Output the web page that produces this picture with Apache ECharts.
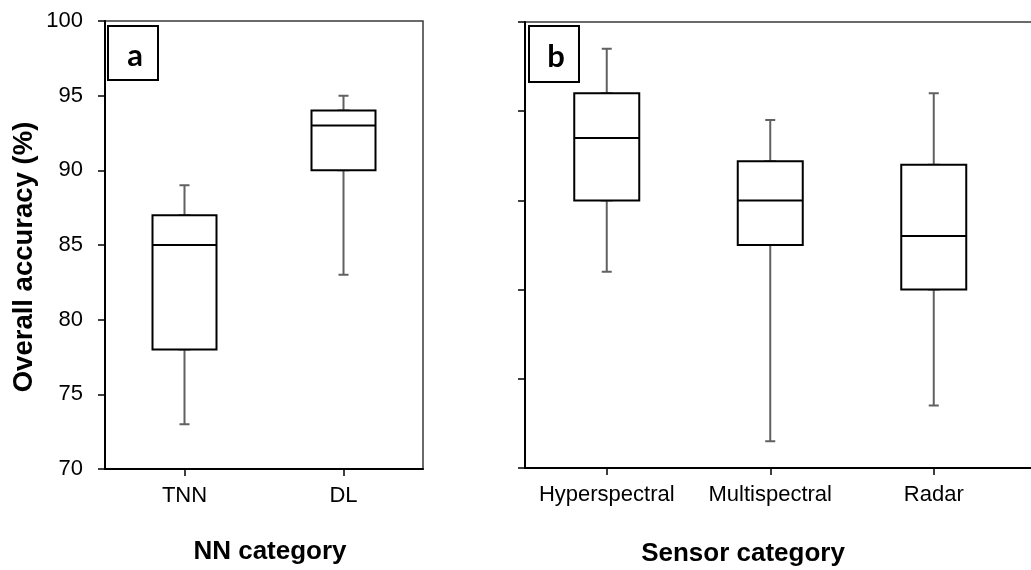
<!DOCTYPE html>
<html>
<head>
<meta charset="utf-8">
<script src="https://cdn.jsdelivr.net/npm/echarts@6/dist/echarts.min.js"></script>
<style>
  html, body { margin: 0; padding: 0; background: #ffffff; }
  #chart { width: 1031px; height: 570px; }
</style>
</head>
<body>
<div id="chart"></div>
<script>
// Panel a: overall accuracy by neural-network category
const nnCategories = ['TNN', 'DL'];
const nnMin    = [73, 83];
const nnQ1     = [78, 90];
const nnMedian = [85, 93];
const nnQ3     = [87, 94];
const nnMax    = [89, 95];
const nnTicks  = [70, 75, 80, 85, 90, 95, 100];

// Panel b: overall accuracy by sensor category
const sensorCategories = ['Hyperspectral', 'Multispectral', 'Radar'];
const sensorMin    = [86, 76.5, 78.5];
const sensorQ1     = [90, 87.5, 85];
const sensorMedian = [93.5, 90, 88];
const sensorQ3     = [96, 92.2, 92];
const sensorMax    = [98.5, 94.5, 96];
const sensorTicks  = [75, 80, 85, 90, 95, 100];

const FONT = '"Liberation Sans", Arial, sans-serif';
const WHISKER = '#616161';

// Whiskers: thin gray glyph from min to max with short caps
function whiskerData(mn, q1, q3, mx) {
  return mn.map((v, i) => [v, q1[i], q1[i], q3[i], mx[i]]);
}
// Boxes: black box Q1..Q3 with median line, no whiskers
function boxData(q1, med, q3) {
  return q1.map((v, i) => [v, v, med[i], q3[i], q3[i]]);
}

function xCat(gridIndex, data, visible, extra) {
  return Object.assign({
    type: 'category',
    gridIndex: gridIndex,
    data: data,
    show: visible,
    boundaryGap: true,
    axisLine: { show: true, lineStyle: { color: '#000', width: 2 } },
    axisTick: { show: true, alignWithLabel: true, length: 7, lineStyle: { color: '#000', width: 1.5 } },
    axisLabel: { color: '#000', fontSize: 22, fontFamily: FONT, margin: 16, interval: 0, hideOverlap: false },
    splitLine: { show: false }
  }, extra || {});
}

function yVal(gridIndex, ticks, showLabels) {
  return {
    type: 'value',
    gridIndex: gridIndex,
    min: ticks[0],
    max: ticks[ticks.length - 1],
    interval: ticks[1] - ticks[0],
    axisLine: { show: true, lineStyle: { color: '#000', width: 2 } },
    axisTick: { show: true, length: 7, lineStyle: { color: '#000', width: 1.5 } },
    axisLabel: { show: showLabels, color: '#000', fontSize: 22, fontFamily: FONT, margin: 22 },
    splitLine: { show: false }
  };
}

function panelLabel(letter, x, y, h) {
  return {
    type: 'group',
    x: x, y: y,
    children: [
      { type: 'rect', shape: { x: 0, y: 0, width: 50, height: h },
        style: { fill: '#fff', stroke: '#000', lineWidth: 2 } },
      { type: 'text', x: 27, y: h / 2 + 3,
        style: { text: letter, fill: '#000', font: 'bold 31px Lato, "Open Sans", sans-serif',
                 align: 'center', verticalAlign: 'middle' } }
    ]
  };
}

function axisTitle(text, x, y, size, rotation) {
  return {
    type: 'text', x: x, y: y, rotation: rotation || 0,
    style: { text: text, fill: '#000', font: 'bold ' + size + 'px ' + FONT,
             align: 'center', verticalAlign: 'middle' }
  };
}

const chart = echarts.init(document.getElementById('chart'));

chart.setOption({
  backgroundColor: '#ffffff',
  animation: false,
  grid: [
    { left: 105, top: 21, width: 318, height: 448, show: true, outerBoundsMode: 'none',
      borderColor: '#3a3a3a', borderWidth: 1.5, backgroundColor: 'transparent' },
    // panel b continues past the right edge of the canvas (its right side is not shown)
    { left: 525, top: 22, width: 654, height: 446, show: true, outerBoundsMode: 'none',
      borderColor: '#3a3a3a', borderWidth: 1.5, backgroundColor: 'transparent' }
  ],
  xAxis: [
    xCat(0, nnCategories, true),
    xCat(0, nnCategories, false),
    xCat(1, sensorCategories, true, { max: 3 }),
    xCat(1, sensorCategories, false, { max: 3 })
  ],
  yAxis: [
    yVal(0, nnTicks, true),
    yVal(1, sensorTicks, false)
  ],
  series: [
    { type: 'boxplot', xAxisIndex: 0, yAxisIndex: 0, z: 2, boxWidth: [10, 10],
      itemStyle: { color: 'transparent', borderColor: WHISKER, borderWidth: 2 },
      data: whiskerData(nnMin, nnQ1, nnQ3, nnMax) },
    { type: 'boxplot', xAxisIndex: 1, yAxisIndex: 0, z: 3, boxWidth: [64, 64],
      itemStyle: { color: '#fff', borderColor: '#000', borderWidth: 2 },
      data: boxData(nnQ1, nnMedian, nnQ3) },
    { type: 'boxplot', xAxisIndex: 2, yAxisIndex: 1, z: 2, boxWidth: [10, 10],
      itemStyle: { color: 'transparent', borderColor: WHISKER, borderWidth: 2 },
      data: whiskerData(sensorMin, sensorQ1, sensorQ3, sensorMax) },
    { type: 'boxplot', xAxisIndex: 3, yAxisIndex: 1, z: 3, boxWidth: [65, 65],
      itemStyle: { color: '#fff', borderColor: '#000', borderWidth: 2 },
      data: boxData(sensorQ1, sensorMedian, sensorQ3) }
  ],
  graphic: [
    panelLabel('a', 108, 26, 54),
    panelLabel('b', 529, 26, 56),
    axisTitle('Overall accuracy (%)', 24, 257, 27.5, Math.PI / 2),
    axisTitle('NN category', 270, 552, 26),
    axisTitle('Sensor category', 743, 554, 26)
  ]
});
</script>
</body>
</html>
